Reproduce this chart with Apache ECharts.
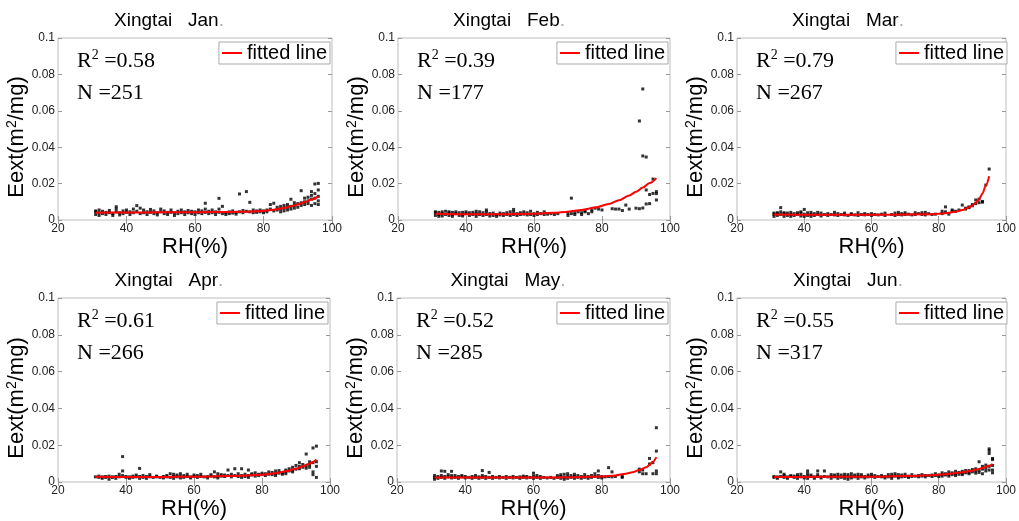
<!DOCTYPE html>
<html>
<head>
<meta charset="utf-8">
<script src="https://cdn.jsdelivr.net/npm/echarts@6/dist/echarts.min.js"></script>
<style>html,body{margin:0;padding:0;background:#fff;}#c{width:1019px;height:521px;}</style>
</head>
<body>
<div id="c"></div>
<script>
// ---------- data ----------
const station = 'Xingtai';
const months = ['Jan', 'Feb', 'Mar', 'Apr', 'May', 'Jun'];
const r2Values = ['0.58', '0.39', '0.79', '0.61', '0.52', '0.55'];
const nValues = ['251', '177', '267', '266', '285', '317'];
const xTicks = [20, 40, 60, 80, 100];
const yTicks = [0, 0.02, 0.04, 0.06, 0.08, 0.1];

const janPts = [
[31,0.003],[31,0.0045],[31,0.005],[32,0.004],[32,0.0055],[32,0.0025],[33,0.0035],[33,0.0048],[34,0.003],[34,0.0042],
[35,0.004],[35,0.0052],[36,0.0035],[36,0.0025],[37,0.0045],[37,0.006],[37,0.0073],[38,0.004],[38,0.0028],[39,0.0035],[39,0.005],
[40,0.0042],[40,0.0055],[41,0.003],[41,0.0045],[42,0.004],[42,0.006],[43,0.0048],[43,0.0079],[44,0.0035],[44,0.0065],
[45,0.004],[45,0.0055],[46,0.003],[46,0.0045],[47,0.0042],[47,0.0058],[48,0.0035],[48,0.005],[49,0.004],[49,0.0028],
[50,0.0045],[50,0.006],[51,0.0035],[51,0.005],[52,0.003],[52,0.0042],[53,0.0042],[53,0.0055],[54,0.004],[54,0.0025],
[55,0.0048],[55,0.0035],[56,0.004],[56,0.0055],[57,0.003],[57,0.0045],[58,0.004],[58,0.0052],[59,0.0035],[59,0.0048],
[60,0.0045],[60,0.003],[61,0.004],[61,0.0055],[62,0.0035],[62,0.005],[63,0.0042],[63,0.0092],[63,0.006],[64,0.0035],[64,0.0048],
[65,0.004],[65,0.0055],[66,0.003],[66,0.0045],[67,0.0042],[67,0.0119],[67,0.006],[68,0.0035],[68,0.0075],[69,0.004],[69,0.003],
[70,0.0045],[70,0.0035],[71,0.0038],[71,0.005],[72,0.0042],[72,0.0032],[73,0.0045],[73,0.0143],[74,0.004],[74,0.0052],
[75,0.0048],[75,0.0156],[76,0.0045],[76,0.0097],[77,0.004],[77,0.0055],[78,0.005],[78,0.0042],[79,0.0045],[79,0.0055],
[80,0.005],[80,0.004],[81,0.0055],[81,0.0045],[82,0.006],[82,0.0085],[83,0.005],[83,0.0092],[84,0.0055],[84,0.007],
[85,0.0045],[85,0.006],[85,0.0075],[86,0.005],[86,0.0065],[86,0.008],[87,0.0055],[87,0.007],[87,0.0085],
[88,0.006],[88,0.0075],[88,0.0114],[89,0.0065],[89,0.008],[89,0.0095],[90,0.007],[90,0.009],
[91,0.008],[91,0.0161],[91,0.0095],[92,0.0085],[92,0.01],[92,0.012],[93,0.009],[93,0.0105],[93,0.0125],
[94,0.008],[94,0.0115],[94,0.0156],[94,0.0135],[95,0.009],[95,0.012],[95,0.0198],[95,0.0145],
[96,0.0085],[96,0.0105],[96,0.0165],[96,0.0201],[96,0.013]
];
const febPts = [
[31,0.0025],[31,0.004],[31,0.0045],[32,0.003],[32,0.0042],[32,0.002],[33,0.0035],[33,0.0045],[33,0.0022],[34,0.003],[34,0.0048],
[35,0.0025],[35,0.004],[35,0.0045],[36,0.003],[36,0.0042],[36,0.002],[37,0.0035],[37,0.0045],[38,0.0025],[38,0.004],
[39,0.003],[39,0.0042],[39,0.0022],[40,0.0035],[40,0.0045],[41,0.0025],[41,0.004],[42,0.003],[42,0.0042],
[43,0.0035],[43,0.0048],[43,0.002],[44,0.003],[44,0.0045],[45,0.0025],[45,0.004],[46,0.003],[46,0.0045],[46,0.0055],
[47,0.0022],[47,0.0035],[48,0.0025],[48,0.0038],[49,0.003],[49,0.002],[50,0.0028],[50,0.0038],[51,0.0025],[51,0.0035],
[52,0.003],[52,0.004],[53,0.0025],[53,0.0045],[54,0.003],[54,0.0058],[54,0.0045],[55,0.0025],[55,0.0035],[56,0.003],[56,0.004],
[57,0.0032],[57,0.0045],[58,0.0028],[58,0.004],[59,0.003],[59,0.0048],[60,0.0035],[60,0.0025],[61,0.003],[61,0.0042],
[62,0.0035],[63,0.003],[63,0.0045],[64,0.0032],[65,0.0035],[66,0.003],[67,0.0035],
[70,0.0025],[70,0.0038],[71,0.0035],[71,0.012],[72,0.004],[72,0.003],[73,0.0045],[74,0.004],[74,0.003],[75,0.0045],[75,0.005],
[76,0.0035],[77,0.0055],[77,0.0045],[78,0.0065],[79,0.006],[80,0.0055],[83,0.0062],[84,0.006],[85,0.006],[86,0.0052],
[87,0.0082],[88,0.006],[90,0.0065],[91,0.0062],[91,0.0544],[92,0.0066],[92,0.072],[92,0.0352],
[93,0.0346],[93,0.0165],[93,0.0088],[94,0.014],[94,0.009],[95,0.0225],[95,0.0146],[96,0.0156],[96,0.011],[96,0.0145]
];
const marPts = [
[31,0.002],[31,0.0032],[31,0.0038],[32,0.0025],[32,0.0035],[32,0.004],[33,0.003],[33,0.0045],[33,0.0068],
[34,0.002],[34,0.0035],[34,0.004],[35,0.0025],[35,0.0038],[36,0.003],[36,0.0042],[36,0.002],[37,0.0025],[37,0.0035],
[38,0.003],[38,0.004],[39,0.0022],[39,0.0038],[39,0.0045],[40,0.002],[40,0.0032],[40,0.0058],[41,0.0025],[41,0.004],
[42,0.003],[42,0.0042],[42,0.002],[43,0.0025],[43,0.0035],[44,0.003],[44,0.0042],[45,0.0022],[45,0.0038],[46,0.003],
[47,0.0025],[47,0.0035],[48,0.003],[49,0.0028],[49,0.0042],[50,0.0025],[50,0.0035],[51,0.003],[52,0.0028],[52,0.0038],
[53,0.0025],[54,0.003],[54,0.0035],[55,0.0028],[56,0.0025],[56,0.004],[57,0.003],[58,0.0028],[58,0.0035],[59,0.003],
[60,0.0025],[60,0.0035],[61,0.003],[62,0.0028],[63,0.0032],[64,0.0025],[64,0.0038],[66,0.003],[67,0.0025],[67,0.0038],
[68,0.003],[68,0.0042],[69,0.0028],[69,0.0035],[70,0.003],[70,0.004],[71,0.0032],[72,0.0028],[73,0.003],[73,0.004],
[74,0.0035],[75,0.003],[75,0.004],[76,0.0028],[76,0.0042],[77,0.0035],[78,0.003],[79,0.0032],
[81,0.0035],[81,0.0048],[82,0.0045],[82,0.0072],[83,0.0032],[84,0.005],[84,0.0055],[85,0.0048],[86,0.0055],[87,0.0082],
[88,0.0065],[88,0.006],[89,0.0072],[89,0.0068],[90,0.0078],[90,0.0085],[91,0.011],[91,0.009],[92,0.0095],[92,0.0115],
[93,0.0098],[93,0.0102],[94,0.0192],[95,0.028]
];
const aprPts = [
[31,0.0028],[32,0.0025],[32,0.0032],[33,0.0028],[33,0.002],[34,0.003],[34,0.0025],[35,0.0015],[35,0.0032],[36,0.0025],[36,0.0028],
[37,0.003],[37,0.002],[38,0.0042],[38,0.0028],[39,0.006],[39,0.0138],[39,0.0035],[40,0.0025],[40,0.003],[41,0.0028],[41,0.002],
[42,0.0032],[42,0.0025],[43,0.0028],[43,0.0038],[44,0.003],[44,0.0074],[44,0.002],[45,0.0025],[45,0.0035],[46,0.003],[46,0.002],
[47,0.0028],[47,0.004],[48,0.0025],[49,0.0028],[49,0.0032],[50,0.0025],[51,0.003],[51,0.0022],[52,0.0028],[52,0.0035],
[53,0.0025],[53,0.0045],[54,0.003],[54,0.002],[54,0.0042],[55,0.0028],[55,0.0038],[56,0.003],[56,0.0022],[56,0.0045],
[57,0.0025],[57,0.0035],[58,0.003],[58,0.0042],[59,0.0028],[59,0.0022],[60,0.003],[60,0.0038],[61,0.0025],[61,0.0035],
[62,0.003],[62,0.0042],[63,0.0028],[64,0.003],[64,0.0022],[65,0.0032],[65,0.004],[66,0.0028],[66,0.0055],
[67,0.003],[67,0.0045],[67,0.0022],[68,0.0032],[68,0.004],[69,0.003],[69,0.0038],[70,0.0035],[70,0.0065],[71,0.0028],[71,0.0042],
[72,0.0035],[72,0.0072],[73,0.003],[73,0.0045],[74,0.0035],[74,0.0072],[74,0.0025],[75,0.003],[75,0.0042],
[76,0.0035],[76,0.0065],[76,0.0025],[77,0.0038],[77,0.0045],[78,0.0032],[78,0.005],[79,0.0035],[79,0.0042],
[80,0.004],[80,0.0048],[81,0.0035],[81,0.0045],[82,0.0042],[82,0.0055],[83,0.004],[83,0.0052],[84,0.0045],[84,0.0035],[84,0.006],
[85,0.0048],[85,0.0062],[86,0.005],[86,0.0042],[87,0.0055],[87,0.0065],[87,0.0045],[88,0.006],[88,0.0072],
[89,0.0065],[89,0.0055],[89,0.008],[90,0.007],[90,0.009],[91,0.0072],[91,0.0085],[91,0.0105],[92,0.008],[92,0.0095],
[93,0.0088],[93,0.0152],[93,0.0075],[94,0.0095],[94,0.011],[94,0.008],[95,0.0105],[95,0.0185],[95,0.0055],[95,0.004],
[96,0.011],[96,0.0195],[96,0.0085],[96,0.0025]
];
const mayPts = [
[31,0.0025],[31,0.0035],[31,0.0015],[32,0.002],[32,0.003],[33,0.0025],[33,0.006],[33,0.0035],[34,0.002],[34,0.0058],[34,0.003],
[35,0.0028],[35,0.004],[36,0.0022],[36,0.0058],[36,0.0035],[37,0.0025],[37,0.0035],[38,0.002],[38,0.003],[39,0.0028],[39,0.0035],
[40,0.0022],[40,0.003],[41,0.0025],[42,0.002],[42,0.003],[43,0.0025],[43,0.0035],[44,0.002],[44,0.0028],
[45,0.0025],[45,0.0062],[45,0.0035],[46,0.002],[46,0.003],[47,0.0025],[47,0.0052],[48,0.002],[48,0.003],[49,0.0025],
[50,0.0022],[50,0.003],[51,0.0025],[52,0.002],[52,0.003],[53,0.0025],[54,0.0022],[54,0.003],[55,0.0025],[56,0.002],[56,0.0028],
[57,0.0025],[57,0.0032],[58,0.0022],[58,0.003],[59,0.0025],[60,0.002],[60,0.0048],[60,0.0032],[61,0.0025],[61,0.0035],
[62,0.002],[62,0.003],[63,0.0025],[64,0.0022],[65,0.0025],[66,0.002],[67,0.0025],[67,0.0035],[68,0.002],[68,0.003],[68,0.004],
[69,0.0025],[69,0.0042],[69,0.0015],[70,0.003],[70,0.002],[70,0.0045],[71,0.0025],[71,0.0035],[72,0.002],[72,0.003],[72,0.0042],
[73,0.0025],[73,0.0035],[74,0.003],[74,0.002],[75,0.0025],[75,0.004],[76,0.002],[76,0.003],[77,0.0025],[77,0.0035],
[78,0.003],[78,0.0045],[79,0.0025],[79,0.006],[79,0.0035],[80,0.003],[80,0.0022],[81,0.0028],[82,0.003],[82,0.0078],
[83,0.0055],[83,0.0028],[84,0.003],[86,0.003],[86,0.0025],[91,0.0055],[91,0.007],[92,0.0045],[92,0.0065],[93,0.0045],
[94,0.0128],[94,0.0098],[95,0.0045],[95,0.0105],[96,0.0295],[96,0.0168],[96,0.006],[96,0.0045]
];
const junPts = [
[31,0.0025],[31,0.003],[32,0.0028],[32,0.002],[33,0.003],[33,0.0055],[34,0.0025],[34,0.0035],[34,0.0042],[35,0.0028],[35,0.002],
[36,0.003],[36,0.0035],[37,0.0025],[37,0.0032],[38,0.003],[38,0.002],[38,0.004],[39,0.0028],[39,0.0042],[40,0.003],[40,0.0022],
[41,0.0032],[41,0.006],[41,0.0045],[41,0.002],[42,0.003],[42,0.0038],[43,0.0028],[43,0.002],[44,0.003],[44,0.006],[44,0.004],
[45,0.0028],[45,0.0022],[46,0.003],[46,0.006],[47,0.0028],[48,0.003],[48,0.002],[48,0.004],[49,0.0028],[49,0.0038],
[50,0.003],[50,0.002],[50,0.0042],[51,0.0025],[51,0.0038],[52,0.003],[52,0.002],[52,0.0042],[53,0.0028],[53,0.004],[53,0.0015],
[54,0.003],[54,0.0022],[54,0.0045],[55,0.0028],[55,0.0038],[56,0.003],[56,0.002],[56,0.0042],[57,0.0028],[57,0.004],
[58,0.003],[58,0.0022],[59,0.0028],[59,0.0038],[60,0.003],[60,0.0042],[61,0.0025],[61,0.0035],[62,0.003],[63,0.0028],[63,0.0035],
[64,0.003],[64,0.0022],[65,0.0028],[65,0.004],[66,0.003],[66,0.0042],[66,0.002],[67,0.0032],[67,0.0045],
[68,0.003],[68,0.0022],[68,0.004],[69,0.0028],[69,0.0038],[70,0.003],[70,0.0042],[71,0.0032],[71,0.0025],[72,0.003],[72,0.004],
[73,0.0032],[74,0.0035],[74,0.0028],[75,0.0032],[75,0.004],[76,0.0035],[76,0.0028],[77,0.0035],[78,0.0038],[78,0.003],
[79,0.0035],[79,0.0045],[80,0.0038],[80,0.003],[81,0.004],[81,0.005],[81,0.0032],[82,0.0038],[82,0.0045],
[83,0.0042],[83,0.0055],[83,0.0032],[84,0.004],[84,0.005],[85,0.0045],[85,0.0058],[85,0.0035],[86,0.0042],[86,0.0052],
[87,0.0048],[87,0.0058],[87,0.004],[88,0.005],[88,0.0062],[89,0.0052],[89,0.0062],[89,0.0045],[90,0.0055],[90,0.0068],
[91,0.006],[91,0.0072],[91,0.0048],[92,0.0065],[92,0.011],[92,0.0052],[93,0.007],[93,0.0085],[93,0.0045],
[94,0.0075],[94,0.0092],[94,0.006],[95,0.0085],[95,0.018],[95,0.017],[95,0.0155],[95,0.0065],
[96,0.009],[96,0.0128],[96,0.0122],[96,0.0065],[96,0.005]
];

const janFit = [[31,0.004],[40,0.0041],[50,0.0042],[60,0.0043],[70,0.0044],[76,0.0046],[80,0.005],[83,0.0057],[86,0.0066],[88,0.0075],[90,0.0085],[92,0.0097],[94,0.0112],[96,0.013]];
const febFit = [[31,0.0035],[40,0.0032],[50,0.0032],[60,0.0035],[66,0.004],[70,0.0046],[74,0.0055],[78,0.0068],[82,0.0088],[85,0.0108],[88,0.0135],[90,0.0155],[92,0.0178],[94,0.0203],[96,0.023]];
const marFit = [[31,0.003],[45,0.0029],[60,0.0029],[70,0.003],[78,0.0032],[82,0.0037],[85,0.0045],[87,0.0055],[89,0.007],[90,0.008],[91,0.0095],[92,0.0115],[93,0.0145],[94,0.019],[95,0.024]];
const aprFit = [[31,0.0028],[40,0.0027],[50,0.0027],[60,0.0029],[70,0.0032],[76,0.0036],[80,0.004],[84,0.0048],[87,0.0058],[90,0.0072],[92,0.0085],[94,0.01],[96,0.0122]];
const mayFit = [[31,0.0025],[45,0.0024],[60,0.0024],[72,0.0026],[80,0.003],[84,0.0036],[87,0.0045],[89,0.0053],[91,0.0065],[93,0.008],[94,0.0092],[95,0.011],[96,0.0135]];
const junFit = [[31,0.0027],[45,0.0028],[60,0.0029],[70,0.0032],[78,0.0037],[82,0.0042],[86,0.005],[89,0.0058],[91,0.0066],[93,0.0076],[95,0.0088],[96,0.0098]];

const pointSets = [janPts, febPts, marPts, aprPts, mayPts, junPts];
const fitSets = [janFit, febFit, marFit, aprFit, mayFit, junFit];

// ---------- layout ----------
const W = 1019;
const layout = [
  {left: 58,  top: 38,  width: 274, height: 182},
  {left: 398, top: 38,  width: 272, height: 182},
  {left: 737, top: 38,  width: 272, height: 182},
  {left: 58,  top: 298, width: 272, height: 184},
  {left: 397, top: 298, width: 273, height: 184},
  {left: 737, top: 298, width: 272, height: 184}
];
const SANS = 'Liberation Sans, Arial, sans-serif';
const SERIF = 'Liberation Serif, Times New Roman, serif';
const frame = '#bdbdbd';

const grids = [], xAxes = [], yAxes = [], series = [], legends = [], graphics = [];
layout.forEach((g, i) => {
  grids.push({left: g.left, top: g.top, width: g.width, height: g.height, show: true,
    borderColor: frame, borderWidth: 1, backgroundColor: 'transparent', containLabel: false});
  const tickStyle = {show: true, inside: true, length: 4, lineStyle: {color: '#999', width: 1}};
  xAxes.push({gridIndex: i, type: 'value', min: xTicks[0], max: xTicks[xTicks.length - 1],
    interval: xTicks[1] - xTicks[0], position: 'bottom',
    axisLine: {show: false}, axisTick: tickStyle, splitLine: {show: false},
    axisLabel: {color: '#222', fontSize: 12, fontFamily: SANS, margin: 3},
    name: 'RH(%)', nameLocation: 'middle', nameGap: 8,
    nameTextStyle: {fontSize: 22, fontFamily: SANS, color: '#000', verticalAlign: 'top'}});
  xAxes.push({gridIndex: i, type: 'value', min: xTicks[0], max: xTicks[xTicks.length - 1],
    interval: xTicks[1] - xTicks[0], position: 'top',
    axisLine: {show: false}, axisTick: tickStyle, splitLine: {show: false}, axisLabel: {show: false}});
  yAxes.push({gridIndex: i, type: 'value', min: yTicks[0], max: yTicks[yTicks.length - 1],
    interval: yTicks[1] - yTicks[0], position: 'left',
    axisLine: {show: false}, axisTick: tickStyle, splitLine: {show: false},
    axisLabel: {color: '#222', fontSize: 12, fontFamily: SANS, margin: 3},
    name: '{a|Eext(m}{b|2}{a|/mg)}', nameLocation: 'middle', nameGap: 25, nameRotate: 90,
    nameTextStyle: {padding: [0, 16, 0, 0], rich: {
      a: {fontSize: 22, fontFamily: SANS, color: '#000', lineHeight: 24},
      b: {fontSize: 14, fontFamily: SANS, color: '#000', lineHeight: 24, verticalAlign: 'top'}
    }}});
  yAxes.push({gridIndex: i, type: 'value', min: yTicks[0], max: yTicks[yTicks.length - 1],
    interval: yTicks[1] - yTicks[0], position: 'right',
    axisLine: {show: false}, axisTick: tickStyle, splitLine: {show: false}, axisLabel: {show: false}});

  series.push({type: 'scatter', xAxisIndex: 2 * i, yAxisIndex: 2 * i, data: pointSets[i],
    symbol: 'rect', symbolSize: 3, itemStyle: {color: '#000'}, silent: true, z: 2});
  series.push({type: 'line', name: 'fitted line', xAxisIndex: 2 * i, yAxisIndex: 2 * i, data: fitSets[i],
    symbol: 'none', smooth: 0.3, smoothMonotone: 'x', lineStyle: {color: '#ff0000', width: 2},
    itemStyle: {color: '#ff0000'}, silent: true, z: 3});

  legends.push({data: ['fitted line'], selectedMode: false, orient: 'horizontal',
    right: W - (g.left + g.width) + 2, top: g.top + 4,
    backgroundColor: '#fff', borderColor: '#aaa', borderWidth: 1, padding: [0, 3, 0, 3],
    icon: 'rect', itemWidth: 20, itemHeight: 2,
    textStyle: {fontSize: 20, fontFamily: SANS, color: '#000', lineHeight: 22}});

  graphics.push({type: 'text', silent: true,
    style: {x: g.left + 111, y: g.top - 17, textAlign: 'center', textVerticalAlign: 'middle',
      text: '{a|' + station + '   ' + months[i] + '}{b|.}',
      rich: {a: {fontSize: 19, fontFamily: SANS, fill: '#000'}, b: {fontSize: 19, fontFamily: SANS, fill: '#aaa'}}}});
  graphics.push({type: 'text', silent: true,
    style: {x: g.left + 19, y: g.top + 23, textAlign: 'left', textVerticalAlign: 'middle',
      text: '{r|R}{s|2}{r| =' + r2Values[i] + '}',
      rich: {r: {fontSize: 22, fontFamily: SERIF, fill: '#000', lineHeight: 26},
             s: {fontSize: 14, fontFamily: SERIF, fill: '#000', lineHeight: 26, verticalAlign: 'top'}}}});
  graphics.push({type: 'text', silent: true,
    style: {x: g.left + 19, y: g.top + 55, textAlign: 'left', textVerticalAlign: 'middle',
      text: 'N =' + nValues[i], fontSize: 22, fontFamily: SERIF, fill: '#000'}});
});

const chart = echarts.init(document.getElementById('c'), null, {renderer: 'canvas'});
chart.setOption({
  animation: false,
  backgroundColor: '#fff',
  grid: grids, xAxis: xAxes, yAxis: yAxes, series: series, legend: legends,
  graphic: graphics
});
</script>
</body>
</html>
